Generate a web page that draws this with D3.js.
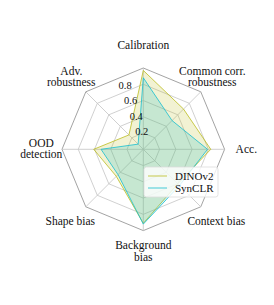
<!DOCTYPE html>
<html lang="en">
<head>
    <meta charset="UTF-8">
    <title>Radar</title>
    <style>
        body { margin: 0; background: #fff; }
        svg { display: block; }
    </style>
</head>
<body>
    <div id="graphic"></div>

    <script src="https://cdn.jsdelivr.net/npm/d3@7"></script>
    <script>
        // axes, clockwise from the top
        var axes = ['Calibration', 'Common corr.\nrobustness', 'Acc.', 'Context bias',
                    'Background\nbias', 'Shape bias', 'OOD\ndetection', 'Adv.\nrobustness'];
        var dinov2 = [0.97, 0.70, 0.83, 0.60, 0.91, 0.47, 0.61, 0.25];
        var synclr = [0.88, 0.50, 0.79, 0.63, 0.92, 0.44, 0.52, 0.09];
        var ticks = [0.2, 0.4, 0.6, 0.8];
        var rings = [0.2, 0.4, 0.6, 0.8, 1.0];

        var width = 274;
        var height = 305;
        var cx = 143.3, cy = 149.3;
        var R = 81.3;
        var serif = '"Liberation Serif", "Times New Roman", serif';

        var r = d3.scaleLinear().domain([0, 1]).range([0, R]);
        var angle = d3.scaleLinear().domain([0, axes.length]).range([0, 2 * Math.PI]);

        var svg = d3.select('#graphic')
            .append('svg')
            .attr('width', width)
            .attr('height', height)
            .attr('font-family', serif);

        var g = svg.append('g').attr('transform', 'translate(' + cx + ',' + cy + ')');

        var radial = d3.lineRadial()
            .angle(function(d, i) { return angle(i); })
            .radius(function(d) { return r(d); })
            .curve(d3.curveLinearClosed);

        // grid rings (octagons)
        g.selectAll('.ring')
            .data(rings)
            .join('path')
            .attr('class', 'ring')
            .attr('d', function(v) { return radial(axes.map(function() { return v; })); })
            .attr('fill', 'none')
            .attr('stroke', function(v) { return v === 1 ? '#8c8c8c' : '#c4c4c4'; })
            .attr('stroke-width', 0.8);

        // spokes
        g.selectAll('.spoke')
            .data(axes)
            .join('line')
            .attr('class', 'spoke')
            .attr('x1', 0).attr('y1', 0)
            .attr('x2', function(d, i) { return r(1) * Math.sin(angle(i)); })
            .attr('y2', function(d, i) { return -r(1) * Math.cos(angle(i)); })
            .attr('stroke', '#c4c4c4')
            .attr('stroke-width', 0.8);

        var series = [
            { name: 'DINOv2', values: dinov2, color: '#bcbd22' },
            { name: 'SynCLR', values: synclr, color: '#17becf' }
        ];

        g.selectAll('.area')
            .data(series)
            .join('path')
            .attr('class', 'area')
            .attr('d', function(s) { return radial(s.values); })
            .attr('fill', function(s) { return s.color; })
            .attr('fill-opacity', 0.2)
            .attr('stroke', function(s) { return s.color; })
            .attr('stroke-opacity', 0.8)
            .attr('stroke-width', 1);

        // radial tick labels
        var tickAng = -20 * Math.PI / 180;
        g.selectAll('.tick')
            .data(ticks)
            .join('text')
            .attr('class', 'tick')
            .attr('x', function(v) { return r(v) * Math.sin(tickAng) + 4; })
            .attr('y', function(v) { return -r(v) * Math.cos(tickAng) + 1; })
            .attr('text-anchor', 'middle')
            .attr('font-size', 10.5)
            .attr('fill', '#111')
            .text(function(v) { return v; });

        // axis labels
        var labelPos = [[0, -104], [69, -73], [103, 0], [73, 72], [0, 101.5], [-73, 72], [-102, -1], [-72, -73]];
        var labels = g.selectAll('.label')
            .data(axes)
            .join('text')
            .attr('class', 'label')
            .attr('font-size', 11.5)
            .attr('fill', '#111')
            .attr('text-anchor', 'middle')
            .attr('transform', function(d, i) { return 'translate(' + labelPos[i][0] + ',' + labelPos[i][1] + ')'; });

        labels.each(function(d) {
            var lines = d.split('\n');
            var el = d3.select(this);
            lines.forEach(function(t, k) {
                el.append('tspan')
                    .attr('x', 0)
                    .attr('y', (k - (lines.length - 1) / 2) * 11.6 + 4)
                    .text(t);
            });
        });

        // legend
        var legend = svg.append('g').attr('transform', 'translate(144,167)');
        legend.append('rect')
            .attr('width', 74).attr('height', 30)
            .attr('rx', 2.5)
            .attr('fill', '#fff').attr('fill-opacity', 0.8)
            .attr('stroke', '#dcdcdc').attr('stroke-width', 0.8);

        var items = legend.selectAll('.item')
            .data(series)
            .join('g')
            .attr('class', 'item')
            .attr('transform', function(d, i) { return 'translate(0,' + (9 + i * 12) + ')'; });
        items.append('line')
            .attr('x1', 4).attr('x2', 23)
            .attr('stroke', function(s) { return s.color; })
            .attr('stroke-opacity', 0.8)
            .attr('stroke-width', 1);
        items.append('text')
            .attr('x', 31).attr('y', 4)
            .attr('font-size', 11)
            .attr('fill', '#111')
            .text(function(s) { return s.name; });
    </script>
</body>
</html>
